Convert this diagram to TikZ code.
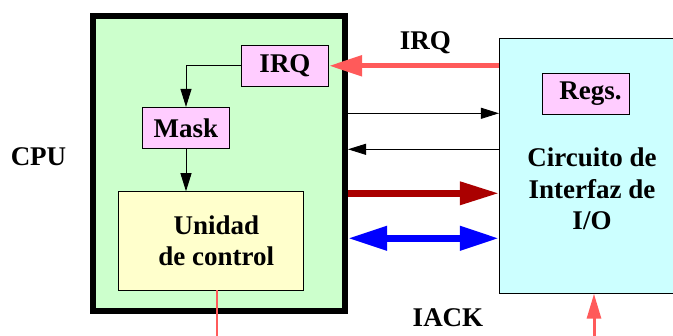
\documentclass[tikz,border=0pt]{standalone}
\usepackage{fontspec}
\setmainfont{Liberation Serif}
\usetikzlibrary{arrows.meta}
\definecolor{cpugreen}{HTML}{CCFFCC}
\definecolor{boxpink}{HTML}{FFCCFF}
\definecolor{boxyellow}{HTML}{FFFFCC}
\definecolor{boxcyan}{HTML}{CCFFFF}
\definecolor{sigred}{HTML}{FF5A5A}
\definecolor{darkred}{HTML}{AA0000}
\definecolor{busblue}{HTML}{0000FF}
\begin{document}
\begin{tikzpicture}[x=1pt,y=-1pt,
  txt/.style={font=\fontsize{27}{31.5}\selectfont\bfseries},
  inbox/.style={draw=black,line width=0.8pt,inner sep=0pt,txt},
  thin/.style={line width=0.9pt,-{Triangle[length=18pt,width=11pt]}},
  thick/.style={line width=6pt}]
\useasboundingbox (0,0) rectangle (673,336);
\node[draw=black,fill=cpugreen,line width=6pt,minimum width=252pt,minimum height=294.5pt,inner sep=0pt] (cpu) at (219,163.75) {};
\node[inbox,fill=boxcyan,minimum width=200.7pt,minimum height=255pt] (io) at (599.7,165.8) {};
\node[inbox,fill=boxpink,minimum width=87.4pt,minimum height=41pt] (irq) at (285,65.8) {IRQ};
\node[inbox,fill=boxpink,minimum width=87.4pt,minimum height=41pt] (mask) at (186,127.8) {Mask};
\node[inbox,fill=boxyellow,minimum width=185pt,minimum height=98.3pt,align=center] (uc) at (210.8,240.8) {\hspace*{11pt}Unidad\\\hspace*{11pt}de control};
\node[inbox,fill=boxpink,minimum width=87.4pt,minimum height=41pt] (regs) at (586,93.8) {\hspace*{9pt}Regs.};
\node[txt,align=center,inner sep=0pt] (iotxt) at (592,188.8) {Circuito de\\Interfaz de\\I/O};
\node[txt,anchor=base,inner sep=0pt] (cpulbl) at (38.5,166) {CPU};
\node[txt,anchor=base,inner sep=0pt] (irqlbl) at (425.3,49.5) {IRQ};
\node[txt,anchor=base,inner sep=0pt] (iacklbl) at (448,327) {IACK};
\coordinate (ya) at (0,113.3);
\coordinate (yb) at (0,149.3);
\coordinate (yc) at (0,193.3);
\coordinate (yd) at (0,238.3);
\coordinate (ucbot) at (216.7,336);
\coordinate (iackbot) at (594,336);
% internal arrows
\draw[thin] (irq.west) -| (mask.north);
\draw[thin] (mask.south) -- (mask.south |- uc.north);
% CPU <-> IO
\draw[sigred,line width=5.3pt,-{Triangle[length=33pt,width=20pt]}] (io.west |- irq.east) -- (irq.east);
\draw[thin] (cpu.east |- ya) -- (io.west |- ya);
\draw[thin] (io.west |- yb) -- (cpu.east |- yb);
\draw[darkred,line width=6.5pt,-{Triangle[length=39pt,width=22pt]}] (cpu.east |- yc) -- (io.west |- yc);
\draw[busblue,line width=7pt,{Triangle[length=39pt,width=23pt]}-{Triangle[length=39pt,width=23pt]}] (cpu.east |- yd) -- (io.west |- yd);
% IACK lines
\draw[sigred,line width=2pt] (ucbot |- uc.south) -- (ucbot);
\draw[sigred,line width=3pt,-{Triangle[length=25pt,width=14pt]}] (iackbot) -- (iackbot |- io.south);
\end{tikzpicture}
\end{document}
